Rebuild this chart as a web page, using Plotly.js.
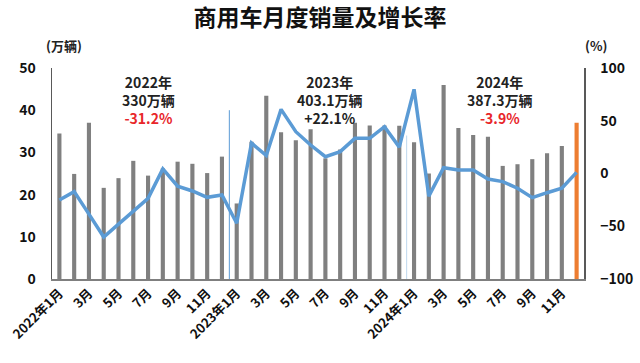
<!DOCTYPE html>
<html>
<head>
<meta charset="utf-8">
<script src="https://cdn.plot.ly/plotly-3.0.1.min.js"></script>
<style>html,body{margin:0;padding:0;background:#fff;}#chart{width:640px;height:363px;}</style>
</head>
<body>
<div id="chart"></div>
<script>
// Month labels (36 months, 2022-01 .. 2024-12)
const months = [
  "2022年1月","2月","3月","4月","5月","6月","7月","8月","9月","10月","11月","12月",
  "2023年1月","2月","3月","4月","5月","6月","7月","8月","9月","10月","11月","12月",
  "2024年1月","2月","3月","4月","5月","6月","7月","8月","9月","10月","11月","12月"
];
// Monthly sales (万辆)
const sales = [
  34.5, 24.9, 37.0, 21.6, 23.9, 28.0, 24.5, 26.2, 27.8, 27.3, 25.1, 29.0,
  17.9, 32.5, 43.4, 34.8, 32.9, 35.5, 28.6, 30.7, 37.0, 36.4, 36.4, 36.3,
  32.4, 25.0, 46.0, 35.8, 34.1, 33.7, 26.8, 27.2, 28.4, 29.8, 31.5, 37.0
];
// Year-on-year growth (%)
const growth = [
  -25.1, -17.2, -38.5, -60.2, -48.0, -36.0, -23.5, 4.3, -12.0, -16.6, -22.6, -20.4,
  -47.2, 28.8, 17.0, 60.8, 39.6, 27.0, 15.9, 20.7, 33.3, 33.3, 44.4, 25.0,
  79.8, -21.5, 5.5, 3.3, 3.3, -5.2, -7.7, -14.0, -22.9, -18.2, -14.0, 1.1
];
// Yearly summary texts
const years = ["2022年", "2023年", "2024年"];
const yearTotals = ["330万辆", "403.1万辆", "387.3万辆"];
const yearGrowth = ["-31.2%", "+22.1%", "-3.9%"];
const yearGrowthColor = ["#e8262a", "#222222", "#e8262a"];
const yearCenter = [6.0, 18.3, 29.8];

const idx = months.map((_, i) => i);
const barColors = sales.map((_, i) => i === sales.length - 1 ? "#ed7d31" : "#808080");
const tickvals = idx.filter(i => i % 2 === 0);
const ticktext = tickvals.map(i => months[i]);

const FONT = '"Noto Sans CJK SC", "Noto Sans", sans-serif';

const traces = [
  {
    type: "bar", x: idx, y: sales, marker: {color: barColors},
    hoverinfo: "skip", showlegend: false
  },
  {
    type: "scatter", mode: "lines", x: idx, y: growth, yaxis: "y2",
    line: {color: "#5b9bd5", width: 3.5}, hoverinfo: "skip", showlegend: false
  }
];

const annotations = years.map((y, k) => ({
  xref: "x", yref: "y", x: yearCenter[k], y: 42.4, yanchor: "middle",
  text: y + "<br>" + yearTotals[k] + "<br><span style='color:" + yearGrowthColor[k] + "'>" + yearGrowth[k] + "</span>",
  showarrow: false, align: "center",
  font: {family: FONT, size: 14, color: "#222", weight: "bold"}
}));
annotations.push(
  {xref: "paper", yref: "paper", x: 0.022, y: 1.109, xanchor: "center", yanchor: "middle",
   text: "(万辆)", showarrow: false,
   font: {family: FONT, size: 13, color: "#222", weight: "bold"}},
  {xref: "paper", yref: "paper", x: 1.022, y: 1.109, xanchor: "center", yanchor: "middle",
   text: "(%)", showarrow: false,
   font: {family: FONT, size: 13, color: "#222", weight: "bold"}}
);

const layout = {
  width: 640, height: 363,
  margin: {l: 52, r: 56, t: 68, b: 84},
  paper_bgcolor: "#fff", plot_bgcolor: "#fff",
  title: {text: "商用车月度销量及增长率", x: 0.5, xanchor: "center", y: 0.95, yanchor: "middle",
          font: {family: FONT, size: 23, color: "#111", weight: "bold"}},
  bargap: 0.72,
  xaxis: {
    range: [-0.5, 35.5], tickvals: tickvals, ticktext: ticktext, tickangle: -45,
    showline: true, linecolor: "#7f7f7f", linewidth: 1.5, showgrid: false, zeroline: false,
    ticks: "", tickfont: {family: FONT, size: 13, color: "#111", weight: "bold"}
  },
  yaxis: {
    range: [0, 50], dtick: 10, showline: true, linecolor: "#595959", linewidth: 1.5,
    showgrid: false, zeroline: false, ticks: "", ticklabelstandoff: 12,
    tickfont: {family: FONT, size: 14, color: "#111", weight: "bold"}
  },
  yaxis2: {
    range: [-100, 100], dtick: 50, overlaying: "y", side: "right", showline: true,
    linecolor: "#595959", linewidth: 1.5, showgrid: false, zeroline: false, ticks: "",
    ticklabelstandoff: 12,
    tickfont: {family: FONT, size: 14, color: "#111", weight: "bold"}
  },
  shapes: [
    {type: "line", xref: "x", yref: "y", x0: 11.5, x1: 11.5, y0: 0, y1: 40,
     line: {color: "#5b9bd5", width: 1}},
    {type: "line", xref: "x", yref: "y", x0: 23.5, x1: 23.5, y0: 0, y1: 34,
     line: {color: "#bdd7ee", width: 1}}
  ],
  annotations: annotations
};

Plotly.newPlot("chart", traces, layout, {displayModeBar: false, staticPlot: true});
</script>
</body>
</html>
